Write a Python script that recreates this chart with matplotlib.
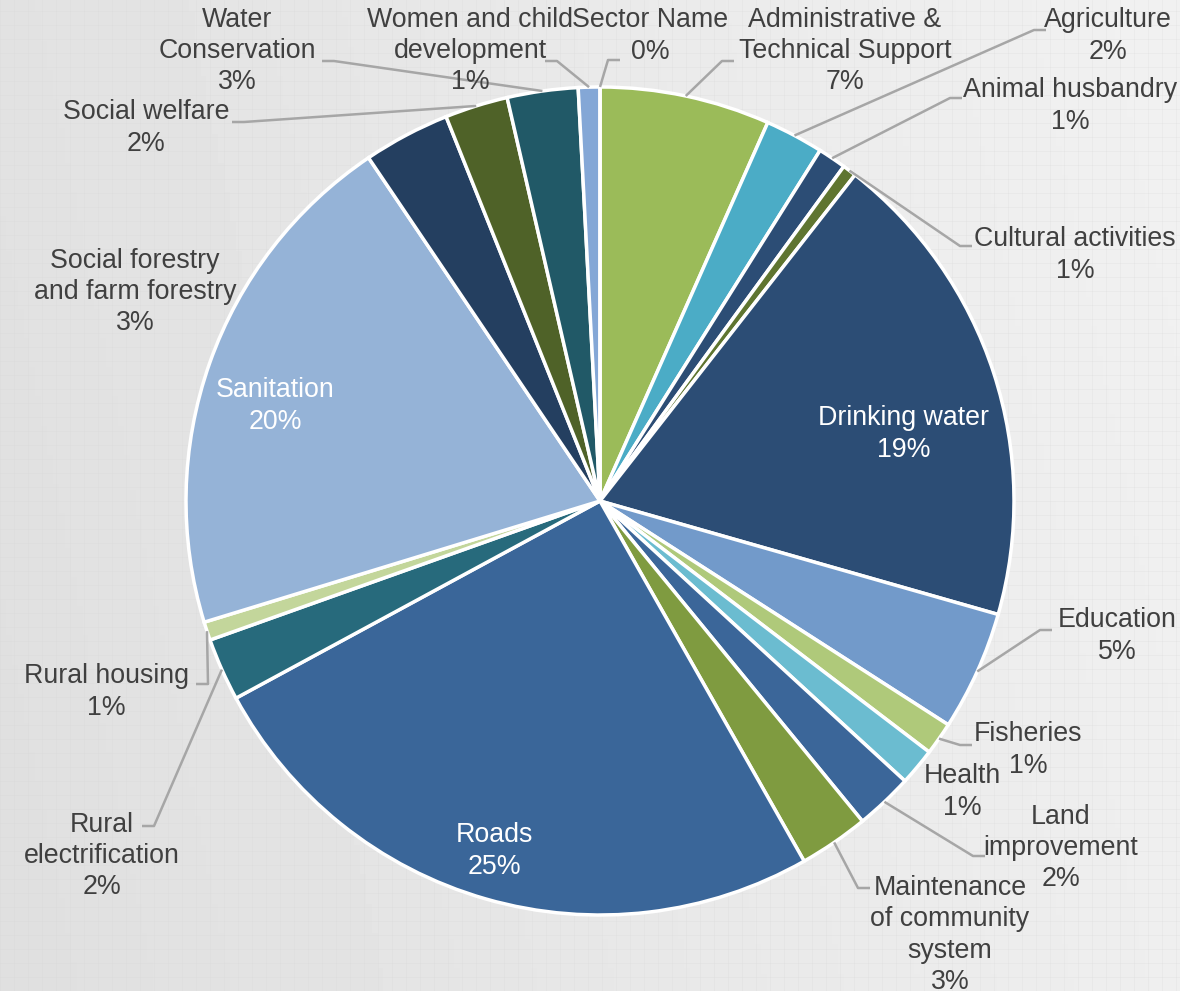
import numpy as np
import matplotlib
matplotlib.use("Agg")
import matplotlib.pyplot as plt

plt.rcParams["font.family"] = ["Liberation Sans", "DejaVu Sans"]

# sector share of spending (%), clockwise from 12 o'clock
sectors = [
    "Administrative &\nTechnical Support", "Agriculture", "Animal husbandry",
    "Cultural activities", "Drinking water", "Education", "Fisheries", "Health",
    "Land\nimprovement", "Maintenance\nof community\nsystem", "Roads",
    "Rural\nelectrification", "Rural housing", "Sanitation",
    "Social forestry\nand farm forestry", "Social welfare", "Water\nConservation",
    "Women and child\ndevelopment", "Sector Name",
]
shares = [6.64, 2.28, 1.10, 0.54, 18.85, 4.67, 1.28, 1.45, 2.25, 2.72, 25.3,
          2.45, 0.72, 20.28, 3.38, 2.46, 2.76, 0.84, 0.0]
colors = ["#9BBB59", "#4BACC6", "#2C4D75", "#5F7530", "#2C4D75", "#729ACA",
          "#AFC97A", "#6BBCD0", "#3B6699", "#7F9B40", "#3A6699", "#276A7C",
          "#C3D69B", "#95B3D7", "#243F60", "#4F6228", "#215967", "#84A7D6",
          "#84A7D6"]

# label placement in pixel space (x, y from top), plus where the leader meets the text
label_pos = {
    "Administrative &\nTechnical Support": ((845, 51), (734, 61)),
    "Agriculture": ((1108, 36), (1046, 30)),
    "Animal husbandry": ((1070, 106), (962, 98)),
    "Cultural activities": ((1075, 255), (972, 246)),
    "Drinking water": ((904, 434), None),
    "Education": ((1117, 636), (1052, 630)),
    "Fisheries": ((1028, 750), (972, 745)),
    "Health": ((962, 792), None),
    "Land\nimprovement": ((1061, 848), (985, 856)),
    "Maintenance\nof community\nsystem": ((950, 935), (870, 888)),
    "Roads": ((494, 851), None),
    "Rural\nelectrification": ((102, 856), (142, 826)),
    "Rural housing": ((106, 692), (196, 684)),
    "Sanitation": ((275, 406), None),
    "Social forestry\nand farm forestry": ((135, 292), None),
    "Social welfare": ((146, 128), (232, 122)),
    "Water\nConservation": ((237, 51), (322, 61)),
    "Women and child\ndevelopment": ((470, 51), (545, 61)),
    "Sector Name": ((650, 36), (620, 60)),
}
inside = ["Drinking water", "Roads", "Sanitation"]

W, H = 1180, 991
cx, cy, R = 600, 501, 414

fig = plt.figure(figsize=(W / 100, H / 100), dpi=100)
ax = fig.add_axes([0, 0, 1, 1])
ax.set_xlim(0, W)
ax.set_ylim(0, H)
ax.axis("off")

# light gray background, a bit darker on the left
xx, yy = np.meshgrid(np.linspace(0, 1, 200), np.linspace(0, 1, 170))
bg = 0.875 + 0.06 * xx + 0.01 * yy
ax.imshow(bg, cmap="gray", vmin=0, vmax=1, extent=[0, W, H, 0], aspect="auto", zorder=0)
for gx in range(0, W, 14):
    ax.axvline(gx, color="#d6d6d6", lw=0.6, alpha=0.25, zorder=0.5)
for gy in range(0, H, 14):
    ax.axhline(gy, color="#d6d6d6", lw=0.6, alpha=0.25, zorder=0.5)

wedges, _ = ax.pie(shares, colors=colors, startangle=90, counterclock=False,
                   center=(cx, H - cy), radius=R, frame=True,
                   wedgeprops=dict(edgecolor="white", linewidth=2.5))
ax.set_xlim(0, W)
ax.set_ylim(0, H)
ax.axis("off")

for w, name, val in zip(wedges, sectors, shares):
    (tx, ty), attach = label_pos[name]
    txt = f"{name}\n{val:.0f}%"
    col = "white" if name in inside else "#404040"
    ax.text(tx, H - ty, txt, ha="center", va="center", fontsize=19.3,
            color=col, linespacing=1.27, zorder=5)
    if attach is None:
        continue
    mid = np.deg2rad((w.theta1 + w.theta2) / 2)
    ex, ey = cx + R * np.cos(mid), (H - cy) + R * np.sin(mid)
    ax_, ay_ = attach
    ay_ = H - ay_
    side = 1 if ax_ > ex else -1
    elbow = ax_ - side * 12
    ax.plot([ex, elbow, ax_], [ey, ay_, ay_], color="#a6a6a6", lw=1.8,
            zorder=4, solid_capstyle="butt")

fig.savefig("out.png", dpi=100)
